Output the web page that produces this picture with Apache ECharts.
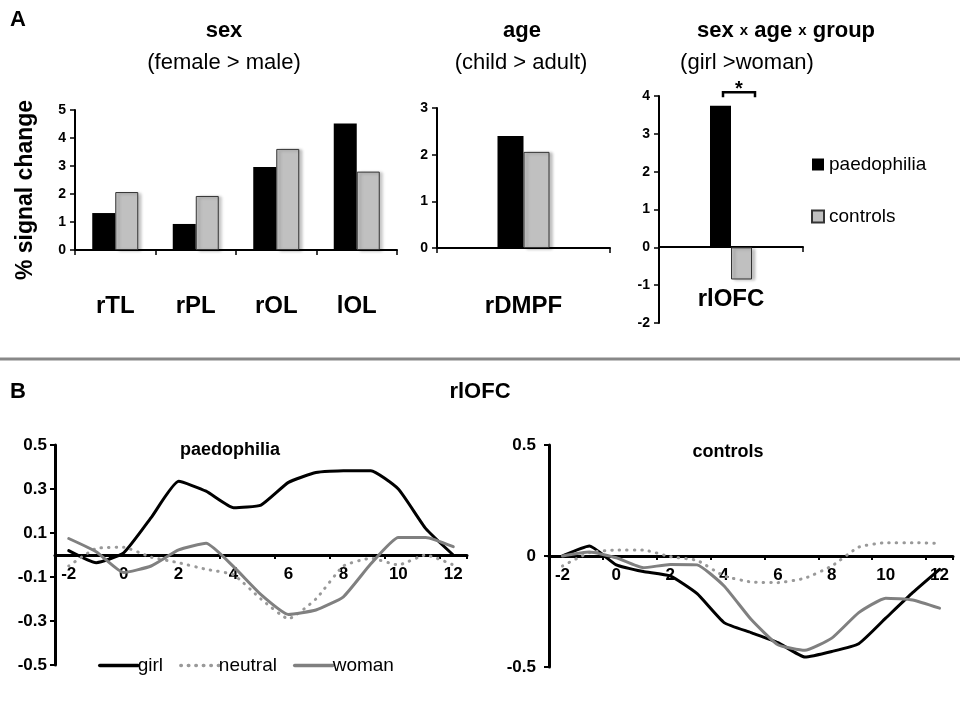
<!DOCTYPE html>
<html>
<head>
<meta charset="utf-8">
<script src="https://cdn.jsdelivr.net/npm/echarts@6/dist/echarts.min.js"></script>
<style>
  html, body { margin: 0; background: #fff; }
  #main { width: 960px; height: 720px; }
</style>
</head>
<body>
<div id="main"></div>
<script>
// A: bar charts
var sexRegions = ['rTL', 'rPL', 'rOL', 'lOL'];
var sexPaedo = [1.32, 0.93, 2.96, 4.52];
var sexControls = [2.07, 1.93, 3.61, 2.80];

var ageRegions = ['rDMPF'];
var agePaedo = [2.40];
var ageControls = [2.06];

var triRegions = ['rlOFC'];
var triPaedo = [3.74];
var triControls = [-0.85];
// significance bracket: [category, foot, top]
var bracket = [[0, 3.97, 4.1]];

// B: time courses
var timePoints = ['-2', '-1', '0', '1', '2', '3', '4', '5', '6', '7', '8', '9', '10', '11', '12'];
var paedoGirl = [0.02, -0.035, 0.01, 0.17, 0.335, 0.29, 0.215, 0.227, 0.33, 0.375, 0.383, 0.383, 0.30, 0.12, 0.0];
var paedoNeutral = [-0.05, 0.03, 0.035, -0.01, -0.035, -0.065, -0.09, -0.2, -0.29, -0.2, -0.05, -0.015, -0.045, 0.0, -0.045];
var paedoWoman = [0.075, 0.015, -0.08, -0.05, 0.023, 0.053, -0.053, -0.18, -0.27, -0.25, -0.19, -0.04, 0.08, 0.08, 0.038];
var ctrlGirl = [0.0, 0.045, -0.04, -0.07, -0.09, -0.17, -0.30, -0.345, -0.39, -0.455, -0.43, -0.395, -0.28, -0.165, -0.06];
var ctrlNeutral = [-0.045, 0.015, 0.027, 0.027, -0.003, -0.02, -0.09, -0.117, -0.12, -0.1, -0.045, 0.04, 0.06, 0.06, 0.057];
var ctrlWoman = [0.0, 0.018, -0.008, -0.053, -0.038, -0.04, -0.135, -0.285, -0.40, -0.425, -0.37, -0.255, -0.19, -0.198, -0.235];

var FONT = '"Liberation Sans", Arial, sans-serif';

var chart = echarts.init(document.getElementById('main'));

// offset lifts an axis from the grid bottom up to the zero line
function barX(gi, cats, margin, offset) {
  return {
    type: 'category', gridIndex: gi, data: cats, offset: offset || 0,
    axisLine: { onZero: false, lineStyle: { color: '#000', width: 2 } },
    axisTick: { show: true, length: 5, lineStyle: { color: '#000', width: 1.5 } },
    axisLabel: { margin: margin, color: '#000', fontFamily: FONT, fontWeight: 'bold', fontSize: 24 },
    splitLine: { show: false }
  };
}

function barY(gi, min, max) {
  return {
    type: 'value', gridIndex: gi, min: min, max: max, interval: 1,
    axisLine: { show: true, lineStyle: { color: '#000', width: 2 } },
    axisTick: { show: true, length: 5, lineStyle: { color: '#000', width: 1.5 } },
    axisLabel: { margin: 9, color: '#000', fontFamily: FONT, fontWeight: 'bold', fontSize: 14 },
    splitLine: { show: false }
  };
}

function timeX(gi, offset) {
  return {
    type: 'category', gridIndex: gi, data: timePoints, boundaryGap: true, offset: offset,
    axisLine: { onZero: false, lineStyle: { color: '#000', width: 3 } },
    axisTick: { show: true, length: 4, lineStyle: { color: '#000', width: 2 } },
    axisLabel: { interval: 1, margin: 11, color: '#000', fontFamily: FONT, fontWeight: 'bold', fontSize: 17 },
    splitLine: { show: false }
  };
}

function timeY(gi, interval, margin) {
  return {
    type: 'value', gridIndex: gi, min: -0.5, max: 0.5, interval: interval,
    axisLine: { show: true, lineStyle: { color: '#000', width: 3 } },
    axisTick: { show: true, length: 5, lineStyle: { color: '#000', width: 2 } },
    axisLabel: {
      margin: margin, color: '#000', fontFamily: FONT, fontWeight: 'bold', fontSize: 17,
      formatter: function (v) { return Math.abs(v) < 1e-9 ? '0' : v.toFixed(1); }
    },
    splitLine: { show: false }
  };
}

var black = { color: '#000' };
var grey = {
  color: '#c0c0c0', borderColor: '#333', borderWidth: 1,
  shadowColor: 'rgba(0,0,0,0.25)', shadowBlur: 3, shadowOffsetX: 3, shadowOffsetY: 1
};

function bars(name, xi, data, width, style) {
  return {
    type: 'bar', name: name, xAxisIndex: xi, yAxisIndex: xi, data: data,
    barWidth: width, barGap: '0%', itemStyle: style
  };
}

function line(name, xi, data, color, type) {
  return {
    type: 'line', name: name, xAxisIndex: xi, yAxisIndex: xi, data: data,
    symbol: 'none', smooth: 0.15,
    lineStyle: { color: color, width: 3, type: type || 'solid', cap: 'round' },
    itemStyle: { color: color }
  };
}

function label(x, y, text, size, bold, extra) {
  var st = {
    text: text, x: 0, y: 0, fill: '#000', fontFamily: FONT,
    fontSize: size, fontWeight: bold ? 'bold' : 'normal',
    align: 'center', verticalAlign: 'middle'
  };
  var el = { type: 'text', x: x, y: y, style: st };
  if (extra) Object.assign(el, extra);
  return el;
}

var option = {
  backgroundColor: '#fff',
  animation: false,
  grid: [
    { left: 75, top: 110, width: 322, height: 140 },
    { left: 437, top: 108, width: 173, height: 140 },
    { left: 659, top: 96, width: 144, height: 227 },
    { left: 55, top: 445, width: 412, height: 220 },
    { left: 549, top: 445, width: 404, height: 222 }
  ],
  xAxis: [
    barX(0, sexRegions, 44),
    barX(1, ageRegions, 46),
    barX(2, triRegions, 40, -76),
    timeX(3, -110),
    timeX(4, -111)
  ],
  yAxis: [
    barY(0, 0, 5),
    barY(1, 0, 3),
    barY(2, -2, 4),
    timeY(3, 0.2, 8),
    timeY(4, 0.5, 13)
  ],
  legend: [
    {
      data: ['paedophilia', 'controls'], orient: 'vertical', left: 806, top: 150,
      icon: 'rect', itemWidth: 12, itemHeight: 12, itemGap: 33,
      textStyle: { color: '#000', fontFamily: FONT, fontSize: 19 }
    },
    {
      data: ['girl', 'neutral', 'woman'], orient: 'horizontal', left: 93, top: 651,
      itemWidth: 38, itemHeight: 3, itemGap: 16,
      itemStyle: { opacity: 0 },
      lineStyle: { width: 3.5 },
      textStyle: { color: '#000', fontFamily: FONT, fontSize: 19, padding: [0, 0, 0, -5] }
    }
  ],
  series: [
    bars('paedophilia', 0, sexPaedo, 23, black),
    bars('controls', 0, sexControls, 23, grey),
    bars('paedophilia', 1, agePaedo, 26, black),
    bars('controls', 1, ageControls, 26, grey),
    bars('paedophilia', 2, triPaedo, 21, black),
    bars('controls', 2, triControls, 21, grey),
    {
      type: 'custom', xAxisIndex: 2, yAxisIndex: 2, data: bracket, silent: true,
      renderItem: function (params, api) {
        var foot = api.coord([api.value(0), api.value(1)]);
        var top = api.coord([api.value(0), api.value(2)]);
        var x0 = foot[0] - 8, x1 = foot[0] + 24;
        return {
          type: 'group',
          children: [
            {
              type: 'polyline',
              shape: { points: [[x0, foot[1]], [x0, top[1]], [x1, top[1]], [x1, foot[1]]] },
              style: { stroke: '#000', lineWidth: 2.5, fill: null }
            },
            {
              type: 'text',
              style: {
                text: '*', x: (x0 + x1) / 2, y: top[1] - 3, fill: '#000',
                fontFamily: FONT, fontSize: 20, fontWeight: 'bold',
                align: 'center', verticalAlign: 'middle'
              }
            }
          ]
        };
      }
    },
    line('girl', 3, paedoGirl, '#000'),
    line('neutral', 3, paedoNeutral, '#999', [0.5, 7]),
    line('woman', 3, paedoWoman, '#808080'),
    line('girl', 4, ctrlGirl, '#000'),
    line('neutral', 4, ctrlNeutral, '#999', [0.5, 7]),
    line('woman', 4, ctrlWoman, '#808080')
  ],
  graphic: [
    label(18, 20, 'A', 22, true),
    label(224, 31, 'sex', 22, true),
    label(224, 63, '(female > male)', 22, false),
    label(522, 31, 'age', 22, true),
    label(521, 63, '(child > adult)', 22, false),
    {
      type: 'text', x: 786, y: 31,
      style: {
        text: '{b|sex }{x|x}{b| age }{x|x}{b| group}',
        x: 0, y: 0, align: 'center', verticalAlign: 'middle', fill: '#000',
        rich: {
          b: { fontFamily: FONT, fontSize: 22, fontWeight: 'bold', fill: '#000' },
          x: { fontFamily: FONT, fontSize: 15, fontWeight: 'bold', fill: '#000' }
        }
      }
    },
    label(747, 63, '(girl >woman)', 22, false),
    label(26, 190, '% signal change', 23, true, { rotation: Math.PI / 2 }),
    {
      type: 'line', shape: { x1: 0, y1: 359, x2: 960, y2: 359 },
      style: { stroke: '#888', lineWidth: 3 }
    },
    label(18, 392, 'B', 22, true),
    label(480, 392, 'rlOFC', 22, true),
    label(230, 450, 'paedophilia', 18, true),
    label(728, 452, 'controls', 18, true)
  ]
};

chart.setOption(option);
</script>
</body>
</html>
